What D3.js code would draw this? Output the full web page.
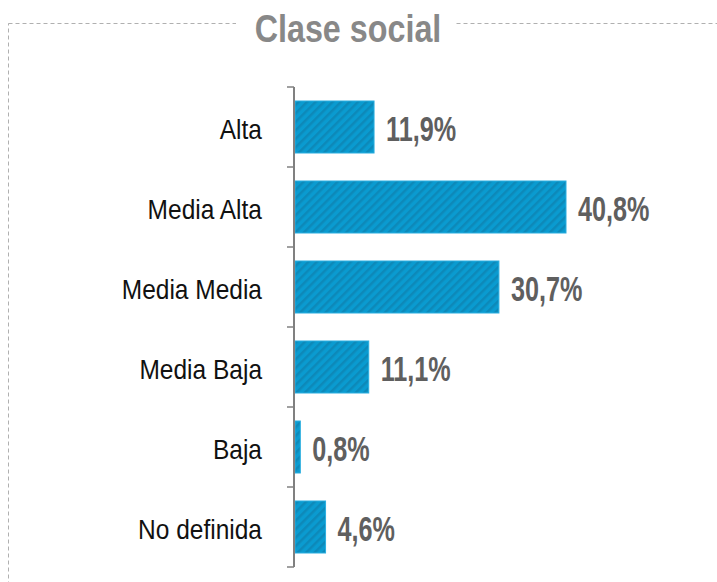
<!DOCTYPE html>
<html>
<head>
<meta charset="utf-8">
<script src="https://cdnjs.cloudflare.com/ajax/libs/d3/7.8.5/d3.min.js"></script>
<style>
  body { margin: 0; background: #fff; }
  svg { display: block; }
</style>
</head>
<body>
<div id="chart"></div>
<script>
var width = 717;
var height = 582;

var title = "Clase social";
var categories = ["Alta", "Media Alta", "Media Media", "Media Baja", "Baja", "No definida"];
var values = [11.9, 40.8, 30.7, 11.1, 0.8, 4.6];
var valueLabels = ["11,9%", "40,8%", "30,7%", "11,1%", "0,8%", "4,6%"];

var rows = categories.map(function(c, i) {
    return {name: c, value: values[i], label: valueLabels[i]};
});

// no narrow font installed, so regular sans gets squeezed horizontally
var font = "'Liberation Sans', Arial, sans-serif";

var svg = d3.select("#chart")
            .append("svg")
            .attr("width", width)
            .attr("height", height);

// hatch pattern for the bars
var pat = svg.append("defs").append("pattern")
             .attr("id", "hatch")
             .attr("patternUnits", "userSpaceOnUse")
             .attr("width", 6)
             .attr("height", 6)
             .attr("patternTransform", "rotate(45)");
pat.append("rect").attr("width", 6).attr("height", 6).attr("fill", "#0a9bd0");
pat.append("rect").attr("width", 2.5).attr("height", 6).attr("fill", "#0d89b9");

// dashed frame
svg.append("rect")
   .attr("x", 8.5).attr("y", 23.5)
   .attr("width", 760).attr("height", 620)
   .attr("fill", "none")
   .attr("stroke", "#b0b0b0")
   .attr("stroke-width", 1)
   .attr("stroke-dasharray", "4,3");

svg.append("rect")
   .attr("x", 236).attr("y", 10)
   .attr("width", 220).attr("height", 30)
   .attr("fill", "#fff");

svg.append("text")
   .attr("transform", "translate(348,42) scale(0.85,1)")
   .attr("text-anchor", "middle")
   .attr("font-family", font)
   .attr("font-weight", "bold")
   .attr("font-size", 38)
   .attr("fill", "#888888")
   .text(title);

var x = d3.scaleLinear()
          .domain([0, 40.8])
          .range([295, 566]);

var y = d3.scaleBand()
          .domain(categories)
          .range([87, 567])
          .paddingInner(0.35)
          .paddingOuter(0.175);

svg.selectAll(".bar")
   .data(rows)
   .enter()
   .append("rect")
   .attr("class", "bar")
   .attr("x", x(0))
   .attr("y", function(d) { return y(d.name); })
   .attr("width", function(d) { return x(d.value) - x(0); })
   .attr("height", y.bandwidth())
   .attr("fill", "url(#hatch)")
   .attr("stroke", "#2aaee0")
   .attr("stroke-width", 1);

svg.selectAll(".val")
   .data(rows)
   .enter()
   .append("text")
   .attr("class", "val")
   .attr("transform", function(d) {
       return "translate(" + (x(d.value) + 12) + "," + (y(d.name) + y.bandwidth() / 2 + 14) + ") scale(0.7,1)";
   })
   .attr("font-family", font)
   .attr("font-weight", "bold")
   .attr("font-size", 36)
   .attr("fill", "#5f5f5f")
   .text(function(d) { return d.label; });

// axis: vertical line with ticks on band boundaries
var step = y.step();
var bounds = d3.range(categories.length + 1).map(function(i) { return 87 + i * step; });

svg.append("line")
   .attr("x1", 294).attr("x2", 294)
   .attr("y1", bounds[0]).attr("y2", bounds[bounds.length - 1])
   .attr("stroke", "#808080")
   .attr("stroke-width", 2);

svg.selectAll(".tick")
   .data(bounds)
   .enter()
   .append("line")
   .attr("class", "tick")
   .attr("x1", 287).attr("x2", 294)
   .attr("y1", function(d) { return d; })
   .attr("y2", function(d) { return d; })
   .attr("stroke", "#808080")
   .attr("stroke-width", 1.5);

svg.selectAll(".cat")
   .data(rows)
   .enter()
   .append("text")
   .attr("class", "cat")
   .attr("transform", function(d) {
       return "translate(262," + (y(d.name) + y.bandwidth() / 2 + 12) + ") scale(0.86,1)";
   })
   .attr("text-anchor", "end")
   .attr("font-family", font)
   .attr("font-size", 28.5)
   .attr("fill", "#111111")
   .text(function(d) { return d.name; });
</script>
</body>
</html>
